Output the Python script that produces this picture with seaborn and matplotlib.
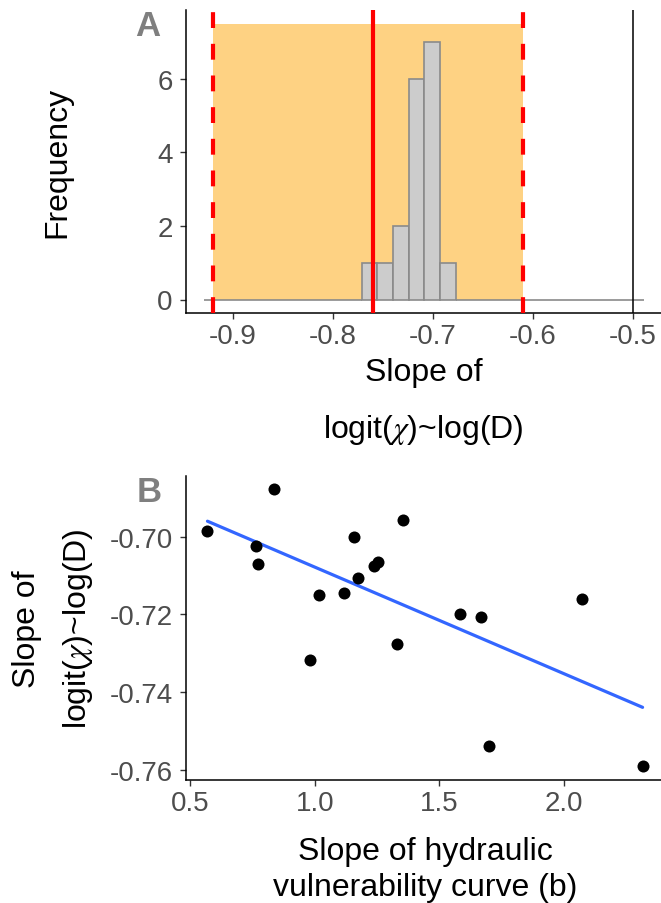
import matplotlib
matplotlib.use("Agg")
import matplotlib.pyplot as plt
import seaborn as sns
import numpy as np
import pandas as pd

# ---- data ----
b_slope = [0.570, 0.763, 0.771, 0.835, 0.981, 1.016, 1.117, 1.157, 1.175,
           1.239, 1.255, 1.329, 1.353, 1.582, 1.667, 1.699, 2.071, 2.314]
chi_slope = [-0.6986, -0.7025, -0.7071, -0.6878, -0.7316, -0.7151, -0.7146, -0.7000, -0.7107,
             -0.7075, -0.7065, -0.7277, -0.6957, -0.7200, -0.7207, -0.7539, -0.7160, -0.7591]
ci_low, ci_mid, ci_high = -0.92, -0.76, -0.61
ref_line = -0.5
rect_top = 7.5
xticks_A = [-0.9, -0.8, -0.7, -0.6, -0.5]
yticks_A = [0, 2, 4, 6]
xticks_B = [0.5, 1.0, 1.5, 2.0]
yticks_B = [-0.70, -0.72, -0.74, -0.76]

df = pd.DataFrame({"b": b_slope, "slope": chi_slope})

sns.set_theme(style="white")
plt.rcParams['font.family'] = ['Liberation Sans', 'DejaVu Sans']
plt.rcParams['mathtext.fontset'] = 'stix'
plt.rcParams['text.color'] = 'black'

W, H = 661, 904
fig = plt.figure(figsize=(W / 100, H / 100), dpi=100)

def fx(px):
    return px / W

def fy(py):
    return 1 - py / H

tick_col = "#4D4D4D"
TICK_FS = 20
TITLE_FS = 23

def style_axes(ax):
    for s in ["top", "right"]:
        ax.spines[s].set_visible(False)
    for s in ["left", "bottom"]:
        ax.spines[s].set_color("black")
        ax.spines[s].set_linewidth(1.1)
    ax.tick_params(axis="both", length=4.3, width=1.0, color="#333333",
                   labelcolor=tick_col, labelsize=TICK_FS,
                   left=True, bottom=True)
    ax.tick_params(axis="x", pad=3)
    ax.tick_params(axis="y", pad=5)
    ax.grid(False)
    ax.set_xlabel("")
    ax.set_ylabel("")

# ---- Panel A ----
axA = fig.add_axes([fx(185.7), fy(314.3), fx(661 - 185.7), (314.3 - 10.7) / H])
axA.fill_between([ci_low, ci_high], 0, rect_top, color="#FED283", lw=0, zorder=0)
sns.histplot(x=df["slope"], binwidth=0.0157, binrange=(-0.9283, -0.4887),
             color="#CCCCCC", edgecolor="#8A8A8A", linewidth=1.2, alpha=1,
             ax=axA, zorder=2)
axA.axvline(ci_mid, color="red", lw=3.0, zorder=4)
axA.axvline(ci_low, color="red", lw=3.0, ls=(0, (3.8, 3.8)), zorder=4)
axA.axvline(ci_high, color="red", lw=3.0, ls=(0, (3.8, 3.8)), zorder=4)
axA.axvline(ref_line, color="black", lw=1.1, zorder=4)
axA.set_xlim(-0.947, -0.472)
axA.set_ylim(-0.375, 7.875)
axA.set_xticks(xticks_A)
axA.set_xticklabels([f"{v:.1f}" for v in xticks_A])
axA.set_yticks(yticks_A)
style_axes(axA)

fig.text(fx(148), fy(26), "A", fontsize=25, fontweight="bold", color="#7F7F7F",
         ha="center", va="center")
fig.text(fx(57), fy(162.5), "Frequency", fontsize=TITLE_FS, rotation=90,
         ha="center", va="center", color="black")
fig.text(fx(423.5), fy(373), "Slope of", fontsize=TITLE_FS, ha="center", va="center")
fig.text(fx(423.5), fy(430), r"logit($\chi$)~log(D)", fontsize=TITLE_FS, ha="center", va="center")

# ---- Panel B ----
axB = fig.add_axes([fx(185.7), fy(781), fx(661 - 185.7), (781 - 476.7) / H])
sns.regplot(data=df, x="b", y="slope", scatter=False, ci=None, color="#3366FF",
            line_kws={"lw": 2.3}, ax=axB)
sns.scatterplot(data=df, x="b", y="slope", color="black", s=75, linewidth=0,
                ax=axB, zorder=3)
axB.set_xlim(0.4828, 2.3878)
axB.set_ylim(-0.7626, -0.6843)
axB.set_xticks(xticks_B)
axB.set_xticklabels([f"{v:.1f}" for v in xticks_B])
axB.set_yticks(yticks_B)
axB.set_yticklabels([f"{v:.2f}" for v in yticks_B])
style_axes(axB)

fig.text(fx(149), fy(493), "B", fontsize=25, fontweight="bold", color="#7F7F7F",
         ha="center", va="center")
fig.text(fx(27), fy(629), "Slope of", fontsize=TITLE_FS, rotation=90, ha="center", va="center")
fig.text(fx(78), fy(629), r"logit($\chi$)~log(D)", fontsize=TITLE_FS, rotation=90,
         ha="center", va="center")
fig.text(fx(425), fy(851.7), "Slope of hydraulic", fontsize=TITLE_FS, ha="center", va="center")
fig.text(fx(425), fy(888), "vulnerability curve (b)", fontsize=TITLE_FS, ha="center", va="center")

fig.savefig("out.png", dpi=100)
